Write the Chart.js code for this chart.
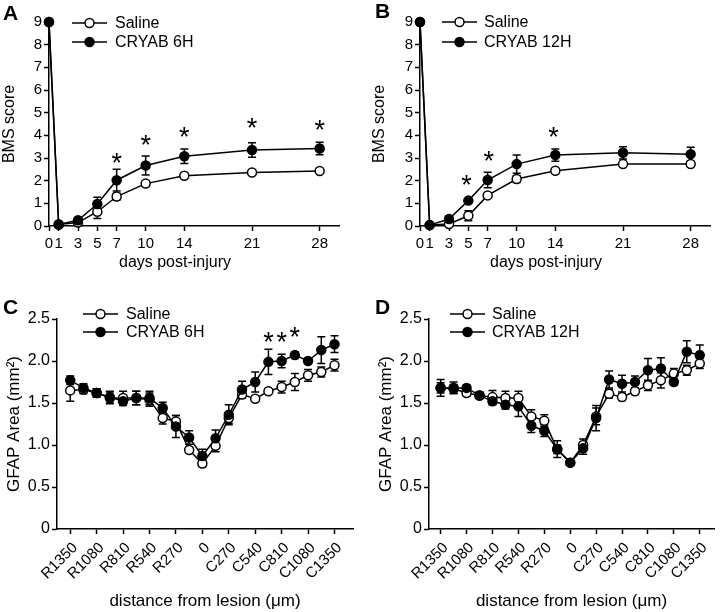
<!DOCTYPE html>
<html>
<head>
<meta charset="utf-8">
<title>BMS and GFAP</title>
<script src="https://cdn.jsdelivr.net/npm/chart.js@4.4.0/dist/chart.umd.min.js"></script>
<style>
  html, body { margin: 0; padding: 0; background: #fff; }
  #wrap { position: relative; width: 720px; height: 612px; overflow: hidden; }
  #wrap canvas { position: absolute; }
</style>
</head>
<body>
<div id="wrap">
  <canvas id="chartA" width="360" height="300" style="left:0;top:0"></canvas>
  <canvas id="chartB" width="360" height="300" style="left:360px;top:0"></canvas>
  <canvas id="chartC" width="360" height="322" style="left:0;top:290px"></canvas>
  <canvas id="chartD" width="360" height="322" style="left:360px;top:290px"></canvas>
</div>
<script>
Chart.defaults.font.family = '"Liberation Sans", Arial, sans-serif';
Chart.defaults.color = '#000';
Chart.defaults.animation = false;

// BMS score, days post-injury
const bmsDays = [0, 1, 3, 5, 7, 10, 14, 21, 28];
const salineA = [9, 0.07, 0.15, 0.63, 1.3, 1.87, 2.22, 2.36, 2.43];
const salineAErr = [0, 0, 0.05, 0.3, 0.15, 0.1, 0.08, 0.08, 0.08];
const cryab6h = [9, 0.07, 0.25, 0.97, 2.02, 2.67, 3.08, 3.35, 3.42];
const cryab6hErr = [0, 0, 0.08, 0.3, 0.48, 0.42, 0.32, 0.32, 0.28];
const starsADays = [7, 10, 14, 21, 28];
const starsAY = [3.06, 3.87, 4.23, 4.6, 4.53];

const salineB = [9, 0.04, 0.09, 0.45, 1.35, 2.07, 2.44, 2.73, 2.73];
const salineBErr = [0, 0, 0.05, 0.22, 0.1, 0.15, 0.1, 0.1, 0.1];
const cryab12h = [9, 0.04, 0.31, 1.12, 2.03, 2.73, 3.13, 3.23, 3.17];
const cryab12hErr = [0, 0, 0.06, 0.08, 0.34, 0.4, 0.27, 0.27, 0.3];
const starsBDays = [4.8, 7.1, 13.8];
const starsBY = [2.1, 3.15, 4.23];

// GFAP area, distance from lesion
const distCats = ['R1350', 'R1215', 'R1080', 'R945', 'R810', 'R675', 'R540', 'R405', 'R270', 'R135', '0',
  'C135', 'C270', 'C405', 'C540', 'C675', 'C810', 'C945', 'C1080', 'C1215', 'C1350'];
const distTicks = [0, 2, 4, 6, 8, 10, 12, 14, 16, 18, 20];

const salineC = [1.65, 1.66, 1.62, 1.56, 1.56, 1.56, 1.54, 1.32, 1.28, 0.94, 0.78,
  0.99, 1.32, 1.6, 1.55, 1.64, 1.69, 1.75, 1.83, 1.87, 1.95];
const salineCErr = [0.13, 0.05, 0.05, 0.07, 0.08, 0.08, 0.08, 0.07, 0.07, 0.03, 0.04,
  0.07, 0.06, 0.04, 0.03, 0.03, 0.07, 0.1, 0.07, 0.06, 0.07];
const cryabC = [1.77, 1.68, 1.62, 1.57, 1.52, 1.56, 1.56, 1.44, 1.22, 1.09, 0.87,
  1.08, 1.36, 1.66, 1.75, 1.99, 2.0, 2.07, 2.0, 2.13, 2.2];
const cryabCErr = [0.05, 0.05, 0.05, 0.07, 0.05, 0.08, 0.08, 0.07, 0.13, 0.08, 0.08,
  0.1, 0.12, 0.1, 0.12, 0.15, 0.08, 0.04, 0.03, 0.16, 0.1];
const starsCIdx = [15, 16, 17];
const starsCY = [2.3, 2.3, 2.36];

const salineD = [1.68, 1.67, 1.62, 1.59, 1.57, 1.56, 1.56, 1.34, 1.29, 0.95, 0.79,
  1.0, 1.34, 1.61, 1.57, 1.64, 1.71, 1.77, 1.85, 1.89, 1.97];
const salineDErr = [0.06, 0.05, 0.04, 0.04, 0.08, 0.08, 0.08, 0.08, 0.07, 0.05, 0.03,
  0.07, 0.1, 0.05, 0.04, 0.04, 0.06, 0.09, 0.06, 0.06, 0.06];
const cryabD = [1.68, 1.68, 1.68, 1.59, 1.52, 1.48, 1.46, 1.23, 1.17, 0.95, 0.79,
  0.96, 1.32, 1.78, 1.73, 1.75, 1.89, 1.91, 1.75, 2.11, 2.07];
const cryabDErr = [0.1, 0.07, 0.03, 0.03, 0.04, 0.05, 0.12, 0.08, 0.07, 0.1, 0.03,
  0.07, 0.15, 0.1, 0.1, 0.07, 0.14, 0.13, 0.04, 0.13, 0.12];

// error bars under the markers
const errorBars = {
  id: 'errorBars',
  beforeDatasetsDraw(chart) {
    const ctx = chart.ctx;
    const xs = chart.scales.x, ys = chart.scales.y;
    ctx.save();
    ctx.strokeStyle = '#000';
    ctx.lineWidth = 1.5;
    chart.data.datasets.forEach(ds => {
      ds.data.forEach((p, i) => {
        const e = ds.errors[i];
        if (!e) return;
        const x = xs.getPixelForValue(p.x);
        const yt = ys.getPixelForValue(p.y + e);
        const yb = ys.getPixelForValue(p.y - e);
        ctx.beginPath();
        ctx.moveTo(x, yt); ctx.lineTo(x, yb);
        ctx.moveTo(x - 4, yt); ctx.lineTo(x + 4, yt);
        ctx.moveTo(x - 4, yb); ctx.lineTo(x + 4, yb);
        ctx.stroke();
      });
    });
    ctx.restore();
  }
};

// significance asterisks
const stars = {
  id: 'stars',
  afterDatasetsDraw(chart, args, opts) {
    const ctx = chart.ctx;
    ctx.save();
    ctx.fillStyle = '#000';
    ctx.font = '27px "Liberation Sans", Arial';
    ctx.textAlign = 'center';
    ctx.textBaseline = 'alphabetic';
    opts.x.forEach((xv, i) => {
      const x = chart.scales.x.getPixelForValue(xv);
      const y = chart.scales.y.getPixelForValue(opts.y[i]);
      ctx.fillText('*', x, y + 15.5);
    });
    ctx.restore();
  }
};

// legend with line + marker, panel letter, and x title when it is not centred
const keyBox = {
  id: 'keyBox',
  afterDraw(chart, args, opts) {
    const ctx = chart.ctx;
    ctx.save();
    chart.data.datasets.forEach((ds, i) => {
      const y = opts.y[i];
      ctx.strokeStyle = '#000';
      ctx.lineWidth = 1.5;
      ctx.beginPath();
      ctx.moveTo(opts.x0, y); ctx.lineTo(opts.x1, y);
      ctx.stroke();
      ctx.beginPath();
      ctx.arc((opts.x0 + opts.x1) / 2, y, 4.5, 0, Math.PI * 2);
      ctx.fillStyle = ds.pointBackgroundColor;
      ctx.fill();
      ctx.stroke();
      ctx.fillStyle = '#000';
      ctx.font = '16px "Liberation Sans", Arial';
      ctx.textAlign = 'left';
      ctx.textBaseline = 'middle';
      ctx.fillText(ds.label, opts.textX, y + 1);
    });
    if (opts.xTitle) {
      ctx.font = '16px "Liberation Sans", Arial';
      ctx.textAlign = 'center';
      ctx.textBaseline = 'middle';
      ctx.fillText(opts.xTitle, opts.xTitleX, opts.xTitleY);
    }
    ctx.font = 'bold 21px "Liberation Sans", Arial';
    ctx.textAlign = 'left';
    ctx.textBaseline = 'top';
    ctx.fillText(opts.letter, opts.lx, opts.ly);
    ctx.restore();
  }
};

function series(label, xs, ys, errs, open) {
  return {
    label: label,
    data: ys.map((v, i) => ({ x: xs[i], y: v })),
    errors: errs,
    borderColor: '#000',
    borderWidth: 1.5,
    pointRadius: 4.5,
    pointBorderWidth: 1.5,
    pointBorderColor: '#000',
    pointBackgroundColor: open ? '#fff' : '#000',
    tension: 0,
    clip: false,
    order: open ? 2 : 1
  };
}

function makePanel(id, p) {
  const tickFont = { size: p.tickSize };
  new Chart(document.getElementById(id), {
    type: 'line',
    data: { datasets: p.datasets },
    options: {
      responsive: false,
      animation: false,
      layout: { padding: { left: 0, top: p.top, right: p.right, bottom: p.bottom } },
      plugins: {
        legend: { display: false },
        tooltip: { enabled: false },
        stars: { x: p.starX, y: p.starY },
        keyBox: p.key
      },
      scales: {
        x: {
          type: 'linear',
          min: p.xMin,
          max: p.xMax,
          afterBuildTicks: s => { s.ticks = p.xTicks.map(v => ({ value: v })); },
          afterFit: s => { s.height = p.xHeight; },
          ticks: {
            autoSkip: false,
            minRotation: p.rot,
            maxRotation: p.rot,
            padding: p.rot ? 5 : 4,
            labelOffset: p.rot ? 5 : 0,
            font: { size: p.xTickSize },
            callback: p.xLabel
          },
          grid: { drawOnChartArea: false, color: '#000', tickLength: 5, tickWidth: 1.5 },
          border: { color: '#000', width: 1.5 },
          title: { display: !!p.xTitle, text: p.xTitle, font: { size: p.titleSize }, padding: { top: 0, bottom: 0 } }
        },
        y: {
          min: p.yMin,
          max: p.yMax,
          afterFit: s => { s.width = p.yWidth; },
          ticks: { stepSize: p.yStep, padding: 2, font: tickFont, callback: p.yLabel },
          grid: { drawOnChartArea: false, color: '#000', tickLength: 5, tickWidth: 1.5 },
          border: { color: '#000', width: 1.5 },
          title: { display: true, text: p.yTitle, font: { size: p.titleSize }, padding: { top: p.yTitlePad, bottom: 0 } }
        }
      }
    },
    plugins: [errorBars, stars, keyBox]
  });
}

const dayLabel = v => String(v);
const bmsLabel = v => String(v);
const distLabel = v => distCats[v];
const gfapLabel = v => (v === 0 ? '0' : v.toFixed(1));
const idx = distCats.map((c, i) => i);

makePanel('chartA', {
  datasets: [series('Saline', bmsDays, salineA, salineAErr, true),
             series('CRYAB 6H', bmsDays, cryab6h, cryab6hErr, false)],
  top: 22, right: 21, bottom: 28, xHeight: 46, yWidth: 49, yTitlePad: 0,
  xMin: 0, xMax: 30, xTicks: bmsDays, xLabel: dayLabel, rot: 0, xTickSize: 15,
  yMin: 0, yMax: 9, yStep: 1, yLabel: bmsLabel, tickSize: 15, titleSize: 16,
  xTitle: '', yTitle: 'BMS score',
  starX: starsADays, starY: starsAY,
  key: { x0: 72, x1: 107, y: [23, 42], textX: 115, letter: 'A', lx: 3, ly: 4,
         xTitle: 'days post-injury', xTitleX: 175, xTitleY: 263 }
});

makePanel('chartB', {
  datasets: [series('Saline', bmsDays, salineB, salineBErr, true),
             series('CRYAB 12H', bmsDays, cryab12h, cryab12hErr, false)],
  top: 22, right: 10, bottom: 28, xHeight: 46, yWidth: 60, yTitlePad: 10,
  xMin: 0, xMax: 30, xTicks: bmsDays, xLabel: dayLabel, rot: 0, xTickSize: 15,
  yMin: 0, yMax: 9, yStep: 1, yLabel: bmsLabel, tickSize: 15, titleSize: 16,
  xTitle: '', yTitle: 'BMS score',
  starX: starsBDays, starY: starsBY,
  key: { x0: 82, x1: 117, y: [22, 42], textX: 124, letter: 'B', lx: 15, ly: 2,
         xTitle: 'days post-injury', xTitleX: 186, xTitleY: 263 }
});

makePanel('chartC', {
  datasets: [series('Saline', idx, salineC, salineCErr, true),
             series('CRYAB 6H', idx, cryabC, cryabCErr, false)],
  top: 29, right: 7, bottom: 0, xHeight: 83, yWidth: 57, yTitlePad: 4,
  xMin: -1, xMax: 21.4, xTicks: distTicks, xLabel: distLabel, rot: 45, xTickSize: 15,
  yMin: 0, yMax: 2.5, yStep: 0.5, yLabel: gfapLabel, tickSize: 16, titleSize: 17,
  xTitle: 'distance from lesion (\u03bcm)', yTitle: 'GFAP Area (mm\u00b2)',
  starX: starsCIdx, starY: starsCY,
  key: { x0: 83, x1: 118, y: [24, 42], textX: 126, letter: 'C', lx: 3, ly: 8 }
});

makePanel('chartD', {
  datasets: [series('Saline', idx, salineD, salineDErr, true),
             series('CRYAB 12H', idx, cryabD, cryabDErr, false)],
  top: 29, right: 0, bottom: 0, xHeight: 83, yWidth: 69, yTitlePad: 16,
  xMin: -0.9, xMax: 21.1, xTicks: distTicks, xLabel: distLabel, rot: 45, xTickSize: 15,
  yMin: 0, yMax: 2.5, yStep: 0.5, yLabel: gfapLabel, tickSize: 16, titleSize: 17,
  xTitle: 'distance from lesion (\u03bcm)', yTitle: 'GFAP Area (mm\u00b2)',
  starX: [], starY: [],
  key: { x0: 90, x1: 125, y: [24, 42], textX: 132, letter: 'D', lx: 15, ly: 8 }
});
</script>
</body>
</html>
